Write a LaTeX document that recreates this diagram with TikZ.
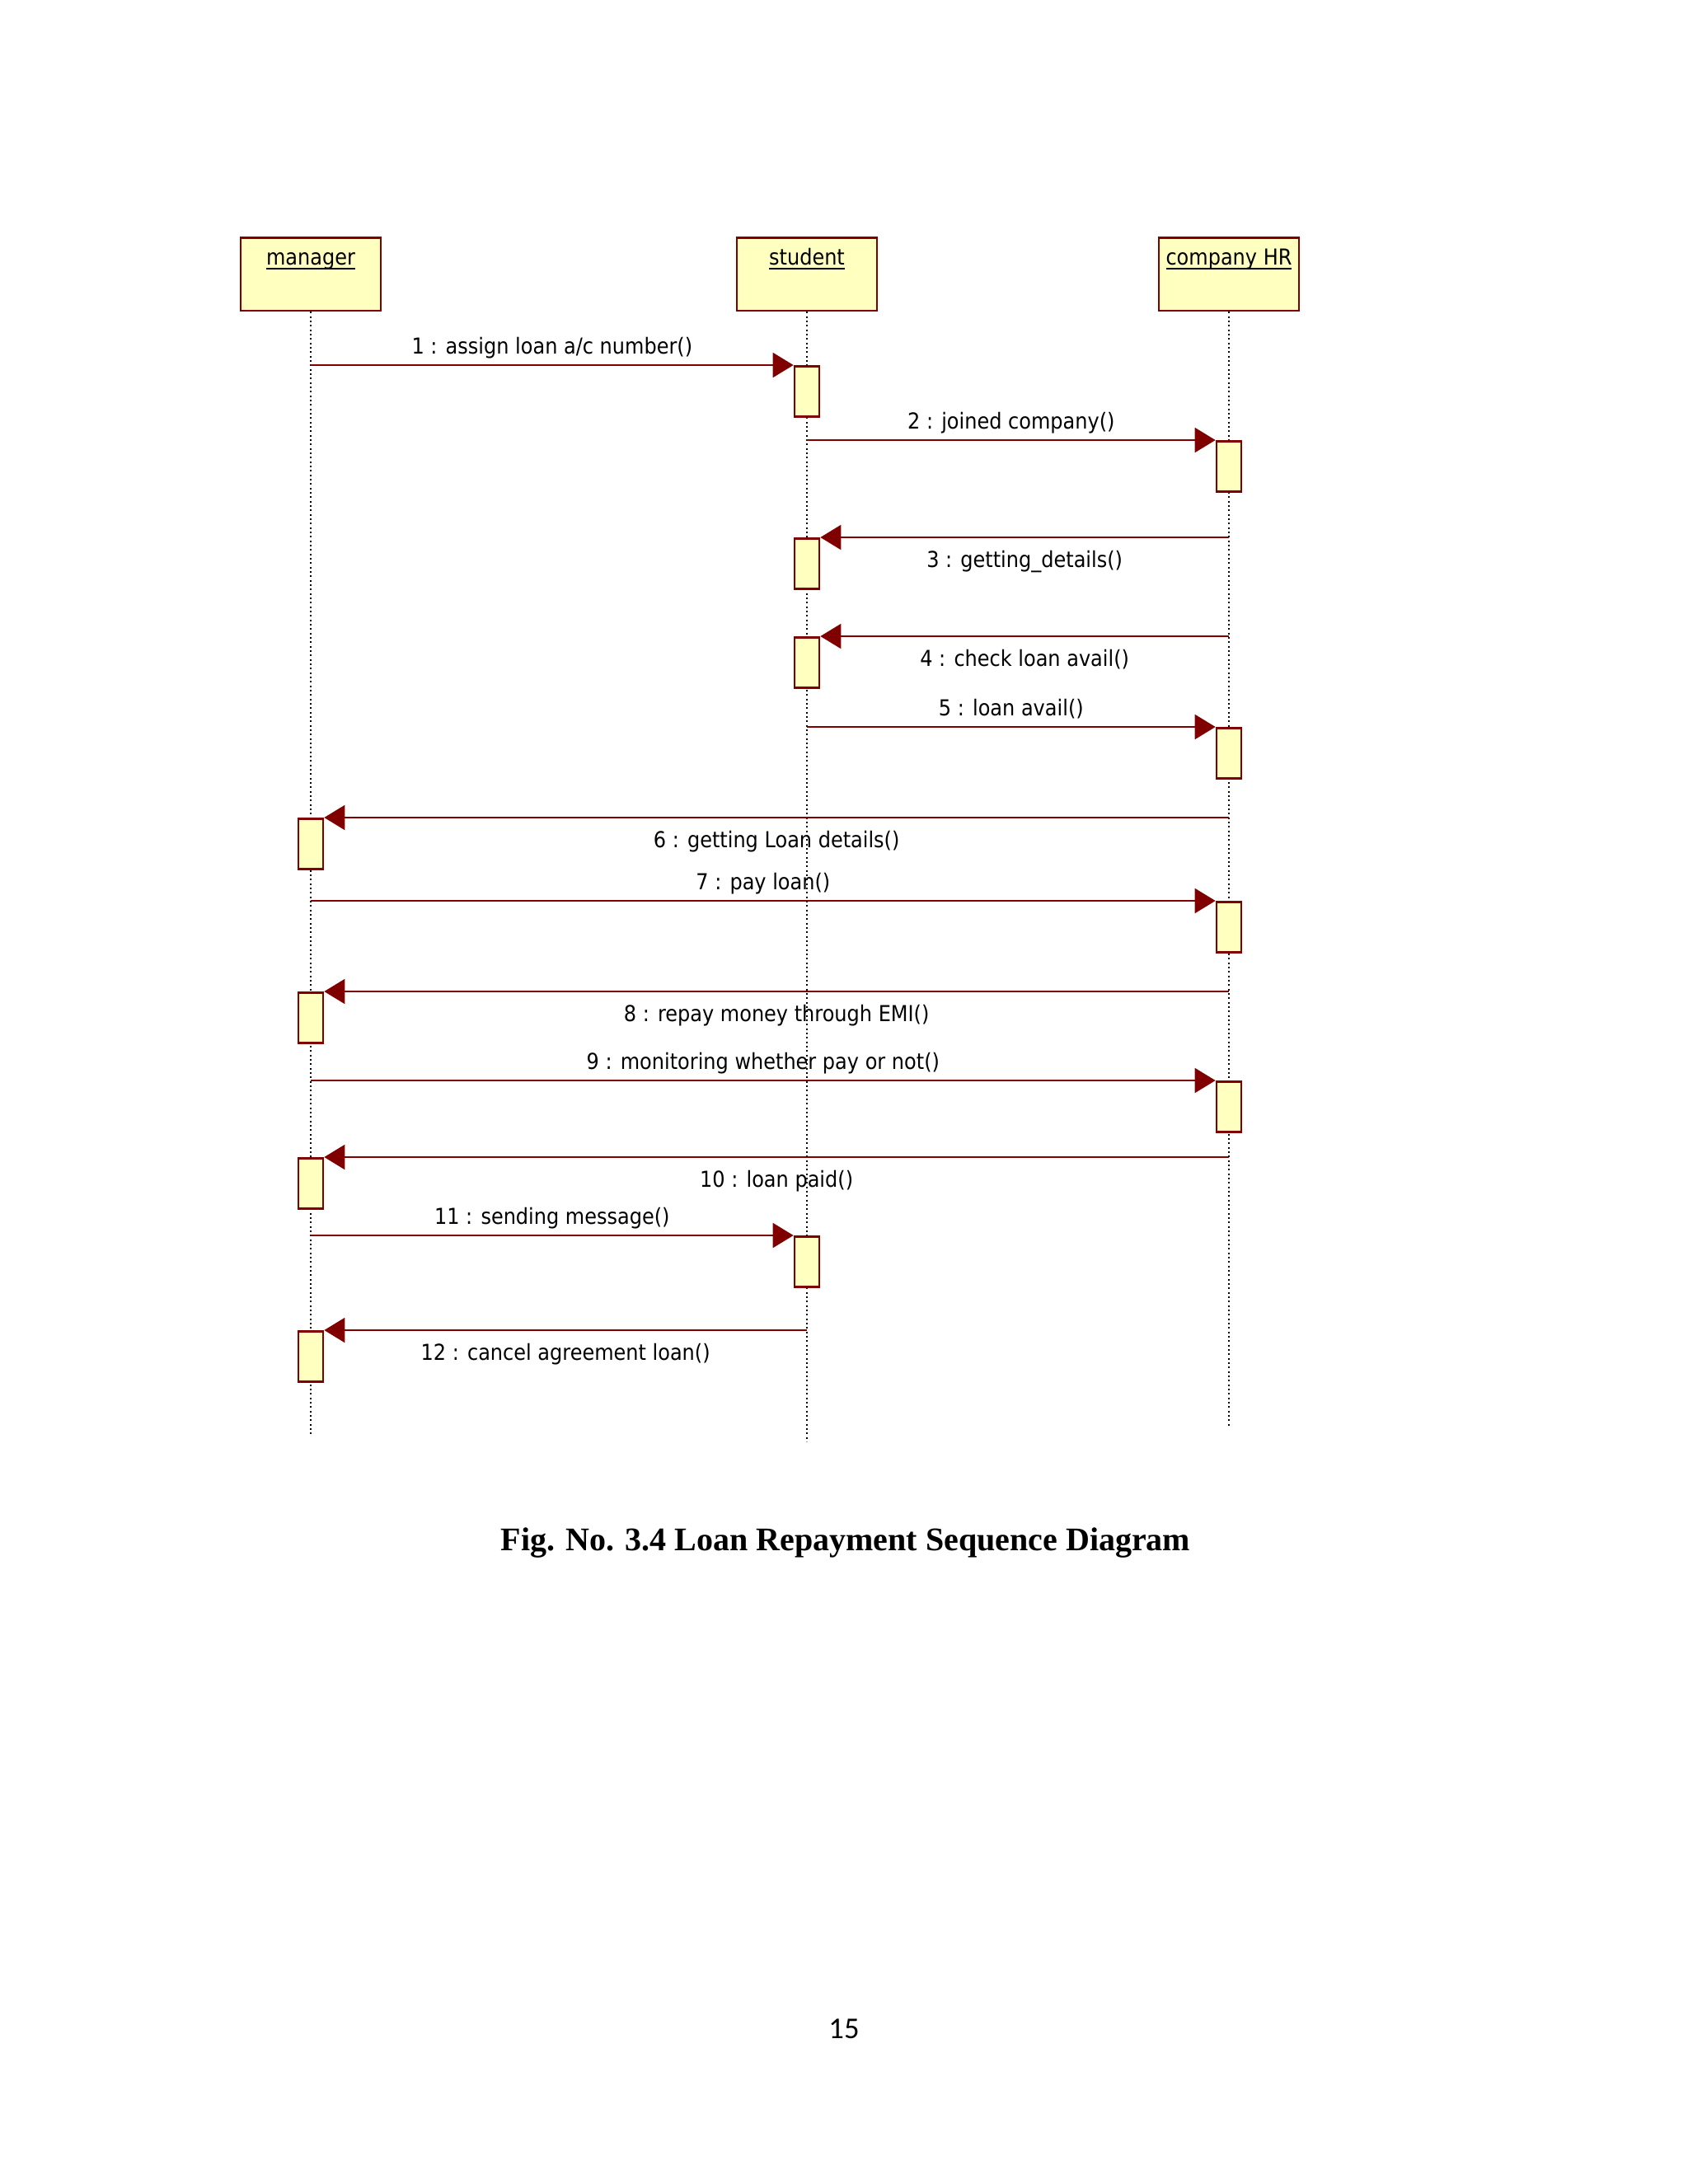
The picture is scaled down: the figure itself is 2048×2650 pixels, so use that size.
\documentclass[tikz,border=0pt]{standalone}
\usepackage{fontspec}
\setmainfont{DejaVu Sans}[FakeStretch=0.9]
\newfontfamily\figfont{Liberation Serif}
\newfontfamily\pagefont{Carlito}
\usepackage{xcolor}
\usepackage{tikz}
\usetikzlibrary{arrows.meta,positioning}
\definecolor{umlred}{RGB}{128,0,0}
\definecolor{umlfill}{RGB}{255,255,192}
\newcommand{\headname}[1]{\underline{\smash{#1}}}

\tikzset{
  headbox/.style={draw=umlred, fill=umlfill, line width=0.8pt, minimum width=51pt, minimum height=26.6pt, anchor=north},
  headlbl/.style={font=\fontsize{8}{10}\selectfont, text height=6.1pt, inner sep=1pt},
  actbox/.style={draw=umlred, fill=umlfill, line width=0.8pt, minimum width=9pt, minimum height=18.3pt, inner sep=0pt, anchor=north},
  lifeline/.style={densely dotted, line width=0.6pt},
  msg/.style={color=umlred, line width=0.6pt, -{Triangle[length=7.5pt,width=9pt]}},
  msglbl/.style={font=\fontsize{8}{10}\selectfont, text=black, text height=6.1pt, text depth=1.7pt, inner sep=2pt}
}

\begin{document}
\begin{tikzpicture}[x=0.3pt, y=0.3pt]
\useasboundingbox (0,0) rectangle (2048,-2650);

% objects
\node (manager) [headbox] at (377,-287) {};
\node (student) [headbox] at (979,-287) {};
\node (hr) [headbox] at (1491,-287) {};
\node (managerlbl) [headlbl, below=3pt of manager.north] {\headname{manager}};
\node (studentlbl) [headlbl, below=3pt of student.north] {\headname{student}};
\node (hrlbl) [headlbl, below=3pt of hr.north] {\headname{company HR}};

% lifelines
\coordinate (managerend) at (377,-1740);
\coordinate (studentend) at (979,-1749);
\coordinate (hrend) at (1491,-1732);
\draw[lifeline] (manager.south) -- (managerend);
\draw[lifeline] (student.south) -- (studentend);
\draw[lifeline] (hr.south) -- (hrend);

% activations
\node (act1) [actbox] at (979,-443) {};
\node (act2) [actbox] at (1491,-534) {};
\node (act3) [actbox] at (979,-652) {};
\node (act4) [actbox] at (979,-772) {};
\node (act5) [actbox] at (1491,-882) {};
\node (act6) [actbox] at (377,-992) {};
\node (act7) [actbox] at (1491,-1093) {};
\node (act8) [actbox] at (377,-1203) {};
\node (act9) [actbox] at (1491,-1311) {};
\node (act10) [actbox] at (377,-1404) {};
\node (act11) [actbox] at (979,-1499) {};
\node (act12) [actbox] at (377,-1614) {};

% messages
\draw[msg] (manager.south |- act1.north) -- node (m1) [msglbl, above] {1 : assign loan a/c number()} (act1.north west);
\draw[msg] (student.south |- act2.north) -- node (m2) [msglbl, above] {2 : joined company()} (act2.north west);
\draw[msg] (hr.south |- act3.north) -- node (m3) [msglbl, below=2.5pt] {3 : getting\_details()} (act3.north east);
\draw[msg] (hr.south |- act4.north) -- node (m4) [msglbl, below=2.5pt] {4 : check loan avail()} (act4.north east);
\draw[msg] (student.south |- act5.north) -- node (m5) [msglbl, above] {5 : loan avail()} (act5.north west);
\draw[msg] (hr.south |- act6.north) -- node (m6) [msglbl, below=2.5pt] {6 : getting Loan details()} (act6.north east);
\draw[msg] (manager.south |- act7.north) -- node (m7) [msglbl, above] {7 : pay loan()} (act7.north west);
\draw[msg] (hr.south |- act8.north) -- node (m8) [msglbl, below=2.5pt] {8 : repay money through EMI()} (act8.north east);
\draw[msg] (manager.south |- act9.north) -- node (m9) [msglbl, above] {9 : monitoring whether pay or not()} (act9.north west);
\draw[msg] (hr.south |- act10.north) -- node (m10) [msglbl, below=2.5pt] {10 : loan paid()} (act10.north east);
\draw[msg] (manager.south |- act11.north) -- node (m11) [msglbl, above] {11 : sending message()} (act11.north west);
\draw[msg] (student.south |- act12.north) -- node (m12) [msglbl, below=2.5pt] {12 : cancel agreement loan()} (act12.north east);

% caption and page number
\node (caption) at (1026,-1872) {\figfont\bfseries\fontsize{12}{14}\selectfont Fig. No. 3.4 Loan Repayment Sequence Diagram};
\node (pagenum) at (1024,-2462) {\pagefont\fontsize{11}{13}\selectfont 15};
\end{tikzpicture}
\end{document}
